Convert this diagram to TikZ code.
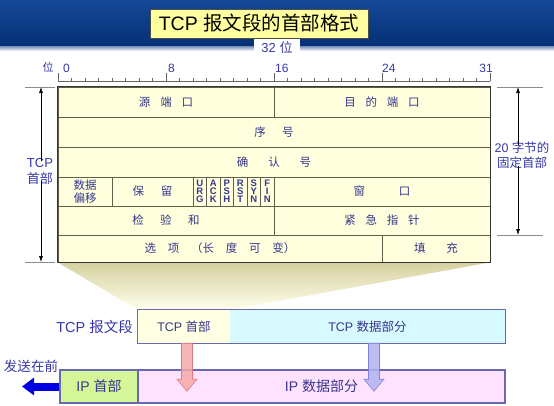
\documentclass[tikz,border=0pt]{standalone}
\usepackage{fontspec}
\setmainfont{Liberation Sans}
\newfontfamily\cjk{Noto Sans CJK SC}
\usetikzlibrary{arrows.meta,backgrounds}
\definecolor{bandtop}{RGB}{22,72,150}
\definecolor{bandbot}{RGB}{4,48,118}
\definecolor{titlefill}{RGB}{255,255,160}
\definecolor{lbl}{RGB}{55,55,170}
\definecolor{tbltxt}{RGB}{55,55,140}
\definecolor{tblfill}{RGB}{255,255,222}
\definecolor{tblline}{RGB}{95,95,75}
\definecolor{barline}{RGB}{105,105,175}
\definecolor{tcphfill}{RGB}{255,255,228}
\definecolor{tcpdfill}{RGB}{214,250,255}
\definecolor{iphfill}{RGB}{212,245,152}
\definecolor{ipdfill}{RGB}{255,226,255}
\definecolor{pinkfill}{RGB}{246,170,170}
\definecolor{pinkline}{RGB}{225,120,130}
\definecolor{lavfill}{RGB}{178,178,242}
\definecolor{lavline}{RGB}{130,130,215}
\definecolor{sendblue}{RGB}{0,0,225}
\definecolor{shadetop}{RGB}{214,208,160}
\definecolor{shadebot}{RGB}{255,255,236}
\newcommand\fs[2]{\fontsize{#1}{#2}\selectfont}
\newcommand\gp[1][0.85]{\hspace{#1em}}
\begin{document}
\begin{tikzpicture}[x=1pt,y=-1pt,
  cell/.style={draw=tblline, fill=tblfill, line width=0.7pt, inner sep=0pt,
    text=tbltxt, font=\cjk\fs{11.5}{13.5}, align=center},
  flag/.style={cell, minimum width=13.5pt, minimum height=29pt,
    font=\bfseries\fs{9.5}{8}},
  rulerline/.style={draw=black!60, line width=0.6pt},
  num/.style={text=lbl, font=\fs{12}{14}, inner sep=0pt},
  dimline/.style={draw=black!45, line width=1pt},
  dimarrow/.style={draw=black, line width=0.6pt, -{Latex[length=6pt,width=4pt]}},
  dimlbl/.style={text=lbl, align=center, inner sep=0pt},
  barpart/.style={inner sep=0pt, minimum height=33pt, text=tbltxt},
  bartext/.style={font=\fs{12.5}{14}},
  iptext/.style={font=\fs{14}{16}},
  downarr/.pic={\draw[pic actions] (-5.5,0) -- (-5.5,36) -- (-10,36) -- (0,48)
     -- (10,36) -- (5.5,36) -- (5.5,0) -- cycle;}
]
\useasboundingbox (0,0) rectangle (554,405);
% top band
\shade[top color=bandtop, bottom color=bandbot] (0,0) rectangle (554,46);
\shade[top color=bandbot!55!white, bottom color=white] (0,46) rectangle (554,51);
\node[fill=titlefill, draw=black!70, line width=0.6pt, minimum width=218pt,
  minimum height=29pt, inner sep=0pt, font=\fs{19.5}{22}] (title) at (259,23.5)
  {TCP {\cjk 报文段的首部格式}};
\node[fill=white, minimum width=46pt, minimum height=17pt, inner sep=0pt,
  text=lbl, font=\fs{13}{15}] (bits) at (277,47.5) {32 {\cjk 位}};
% ruler
\draw[rulerline] (58,81) -- (490,81);
\foreach \b in {0,...,32} {\draw[rulerline] (58+\b*13.5,81) -- ++(0,-3.5);}
\foreach \b in {0,8,16,24,32} {\draw[rulerline] (58+\b*13.5,81) -- ++(0,-8);}
\node[num, font=\cjk\fs{11}{13}] (wei) at (48,67) {位};
\node[num, anchor=base west] (n0) at (63,72) {0};
\node[num, anchor=base west] (n8) at (168,72) {8};
\node[num, anchor=base west] (n16) at (275,72) {16};
\node[num, anchor=base west] (n24) at (382,72) {24};
\node[num, anchor=base east] (n31) at (493,72) {31};
% table
\node[cell, minimum width=216pt, minimum height=30pt] (src) at (166,102) {源\gp 端\gp 口};
\node[cell, minimum width=216pt, minimum height=30pt] (dst) at (382,102) {目\gp 的\gp 端\gp 口};
\node[cell, minimum width=432pt, minimum height=30pt] (seq) at (274,132) {序\gp[1.2] 号};
\node[cell, minimum width=432pt, minimum height=30pt] (ack) at (274,162) {确\gp[1.5] 认\gp[1.5] 号};
\node[cell, minimum width=54pt, minimum height=29pt] (off) at (85,191.5) {数据\\偏移};
\node[cell, minimum width=81pt, minimum height=29pt] (rsv) at (152.5,191.5) {保\gp[1.25] 留};
\node[flag] (urg) at (199.75,191.5) {U\\R\\G};
\node[flag] (ackf) at (213.25,191.5) {A\\C\\K};
\node[flag] (psh) at (226.75,191.5) {P\\S\\H};
\node[flag] (rst) at (240.25,191.5) {R\\S\\T};
\node[flag] (syn) at (253.75,191.5) {S\\Y\\N};
\node[flag] (fin) at (267.25,191.5) {F\\I\\N};
\node[cell, minimum width=216pt, minimum height=29pt] (win) at (382,191.5) {窗\gp[2.7] 口};
\node[cell, minimum width=216pt, minimum height=29pt] (chk) at (166,220.5) {检\gp[1.2] 验\gp[1.2] 和};
\node[cell, minimum width=216pt, minimum height=29pt] (uptr) at (382,220.5) {紧\gp 急\gp 指\gp 针};
\node[cell, minimum width=324pt, minimum height=27pt] (opt) at (220,248.5) {选\gp[0.8] 项\gp[0.8] （长\gp[0.8] 度\gp[0.8] 可\gp[0.8] 变）};
\node[cell, minimum width=108pt, minimum height=27pt] (pad) at (436,248.5) {填\gp[1.6] 充};
\draw[draw=black!80, line width=1.2pt] (src.north west) rectangle (pad.south east);
% left dimension
\draw[dimline] (25,87) -- (55,87);
\draw[dimline] (25,262) -- (55,262);
\node[dimlbl, font=\fs{13}{16}] (hdr) at (40,171) {TCP\\{\cjk 首部}};
\coordinate (htop) at (41,87);
\coordinate (hbot) at (41,262);
\draw[dimarrow] ([yshift=-3pt]htop |- hdr.north) -- (htop);
\draw[dimarrow] ([yshift=3pt]hbot |- hdr.south) -- (hbot);
% right dimension
\draw[dimline] (497,87) -- (543,87);
\draw[dimline] (497,235) -- (543,235);
\node[dimlbl, font=\fs{12.5}{15}] (fix) at (522,155.5) {20 {\cjk 字节的}\\{\cjk 固定首部}};
\coordinate (ftop) at (518,87);
\coordinate (fbot) at (518,235);
\draw[dimarrow] ([yshift=-3pt]ftop |- fix.north) -- (ftop);
\draw[dimarrow] ([yshift=3pt]fbot |- fix.south) -- (fbot);
% TCP segment
\node[barpart, fill=tcphfill, minimum width=92pt, bartext] (tcph) at (184,326.5) {TCP {\cjk 首部}};
\node[barpart, fill=tcpdfill, minimum width=275pt, bartext] (tcpd) at (367.5,326.5) {TCP {\cjk 数据部分}};
\draw[draw=barline, line width=1.2pt] (tcph.north west) rectangle (tcpd.south east);
\node[text=lbl, anchor=east, inner sep=0pt, font=\fs{14.5}{16}] (seglbl) at (133,327) {TCP {\cjk 报文段}};
% IP datagram
\node[barpart, fill=iphfill, draw=barline, line width=1.2pt, minimum width=78pt, iptext] (iph) at (99,386.5) {IP {\cjk 首部}};
\node[barpart, fill=ipdfill, draw=barline, line width=1.2pt, minimum width=367pt, iptext] (ipd) at (321.5,386.5) {IP {\cjk 数据部分}};
\node[text=lbl, inner sep=0pt, font=\cjk\fs{13.5}{15}] (sendlbl) at (31,366) {发送在前};
\coordinate (send) at (22,386.5);
\draw[draw=sendblue, line width=8pt, -{Triangle[length=12pt,width=17pt]}] (iph.west) -- (send);
% down arrows
\pic[draw=pinkline, fill=pinkfill, fill opacity=0.85, line width=0.6pt] at ([xshift=3pt]tcph.south) {downarr};
\pic[draw=lavline, fill=lavfill, fill opacity=0.85, line width=0.6pt] at ([xshift=6.5pt]tcpd.south) {downarr};
% background
\begin{scope}[on background layer]
\fill[white] (0,0) rectangle (554,405);
\shade[top color=shadetop, bottom color=shadebot] (opt.south west) -- (pad.south east)
  -- (tcph.north east) -- (tcph.north west) -- cycle;
\end{scope}
\end{tikzpicture}
\end{document}
